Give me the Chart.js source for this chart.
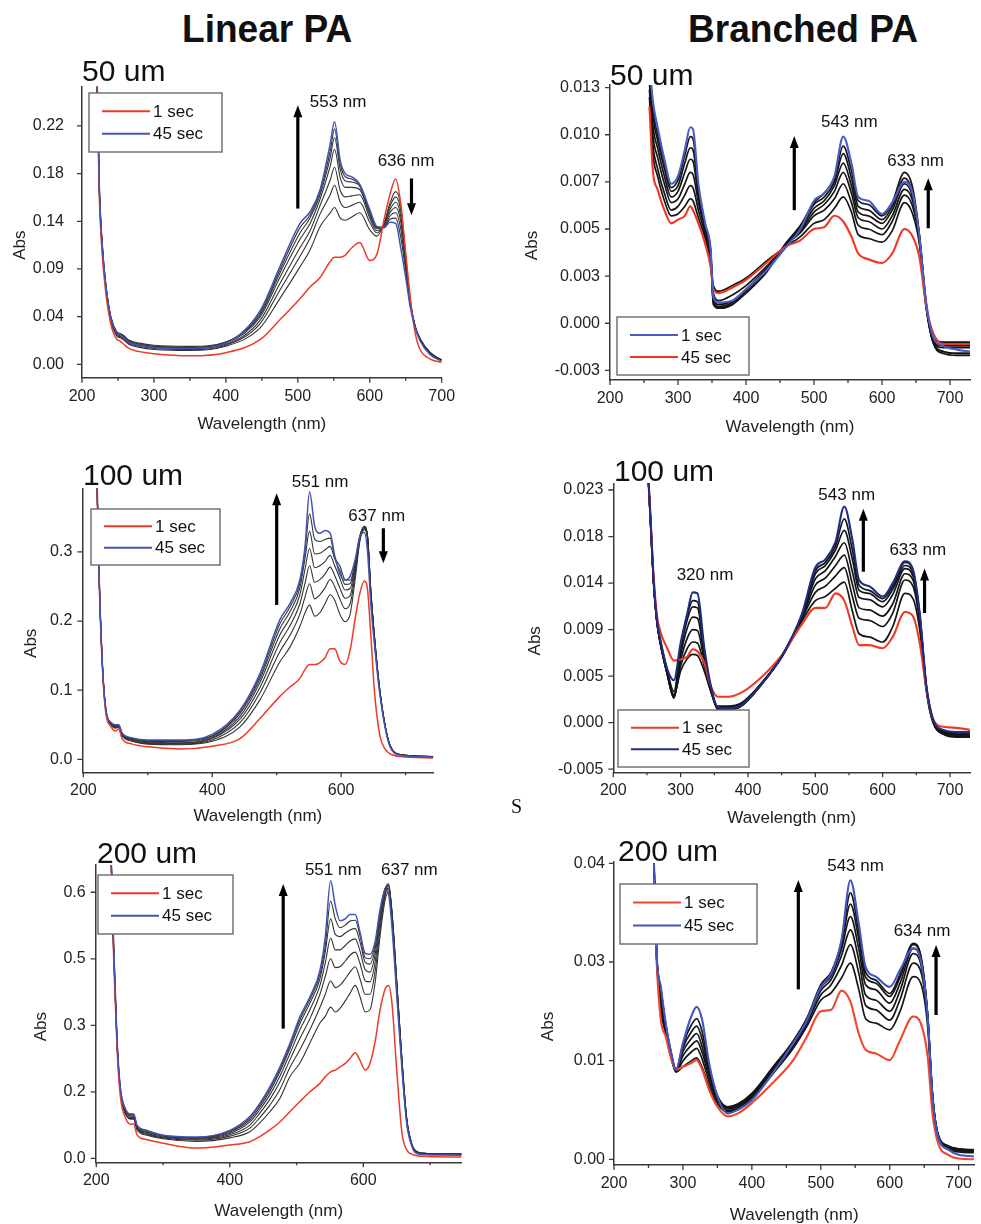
<!DOCTYPE html>
<html>
<head>
<meta charset="utf-8">
<script src="https://cdn.jsdelivr.net/npm/chart.js@4.4.0/dist/chart.umd.min.js"></script>
<style>
  body { margin: 0; background: #fff; width: 981px; height: 1224px; position: relative; overflow: hidden;
         font-family: "Liberation Sans", Arial, sans-serif; color: #111; }
  canvas { position: absolute; }
  .title { position: absolute; font-weight: bold; font-size: 39px; line-height: 1; transform-origin: left top; transform: scaleX(0.95); white-space: nowrap; }
  .tag { position: absolute; font-size: 30px; line-height: 1; white-space: nowrap; }
  .stray { position: absolute; font-family: "Liberation Serif", serif; font-size: 20px; line-height: 1; }
</style>
</head>
<body>
<canvas id="linear50" width="490" height="390" style="left:0;top:50px"></canvas>
<canvas id="branched50" width="491" height="390" style="left:490px;top:50px"></canvas>
<canvas id="linear100" width="490" height="390" style="left:0;top:440px"></canvas>
<canvas id="branched100" width="491" height="390" style="left:490px;top:440px"></canvas>
<canvas id="linear200" width="490" height="394" style="left:0;top:830px"></canvas>
<canvas id="branched200" width="491" height="394" style="left:490px;top:830px"></canvas>

<div class="title" style="left:182px;top:9px">Linear PA</div>
<div class="title" style="left:688px;top:9px">Branched PA</div>
<div class="tag" style="left:82px;top:56px">50 um</div>
<div class="tag" style="left:610px;top:60px">50 um</div>
<div class="tag" style="left:83px;top:460px">100 um</div>
<div class="tag" style="left:614px;top:456px">100 um</div>
<div class="tag" style="left:97px;top:838px">200 um</div>
<div class="tag" style="left:618px;top:836px">200 um</div>
<div class="stray" style="left:511px;top:796px">S</div>

<script>
'use strict';

// ******* AXIS TICKS ********
let xMajorFull = [200, 300, 400, 500, 600, 700];
let xMinorFull = [250, 350, 450, 550, 650];
let xMajorWide = [200, 400, 600];
let xMinorWide = [300, 500, 700];

// ******* LINEAR PA, 50 um ********
let linear50Nm = [220, 224, 228, 233, 240, 248, 253, 258, 265, 280, 300, 350, 400, 447, 475, 503, 517, 531, 545, 551, 559, 566, 575, 586, 600, 610, 620, 628, 636, 643, 650, 656, 663, 670, 684, 700];
let linear50Red = [0.30, 0.16, 0.105, 0.068, 0.038, 0.024, 0.022, 0.019, 0.015, 0.012, 0.010, 0.008, 0.011, 0.023, 0.042, 0.062, 0.073, 0.082, 0.097, 0.101, 0.101, 0.103, 0.110, 0.115, 0.098, 0.104, 0.137, 0.160, 0.175, 0.152, 0.105, 0.065, 0.030, 0.014, 0.005, 0.002];
let linear50Blue = [0.31, 0.17, 0.114, 0.075, 0.044, 0.030, 0.028, 0.025, 0.021, 0.018, 0.016, 0.015, 0.020, 0.050, 0.092, 0.133, 0.144, 0.165, 0.208, 0.229, 0.192, 0.180, 0.177, 0.170, 0.146, 0.130, 0.129, 0.134, 0.133, 0.110, 0.082, 0.055, 0.035, 0.022, 0.009, 0.003];
let linear50Mid = [
  [0.30, 0.165, 0.110, 0.072, 0.041, 0.027, 0.025, 0.023, 0.019, 0.016, 0.014, 0.013, 0.017, 0.034, 0.062, 0.092, 0.108, 0.130, 0.143, 0.148, 0.138, 0.136, 0.139, 0.143, 0.127, 0.121, 0.133, 0.152, 0.163, 0.150, 0.102, 0.062, 0.036, 0.024, 0.011, 0.004],
  [0.30, 0.166, 0.111, 0.073, 0.042, 0.028, 0.026, 0.024, 0.020, 0.017, 0.015, 0.014, 0.018, 0.038, 0.070, 0.102, 0.119, 0.142, 0.160, 0.169, 0.153, 0.148, 0.150, 0.153, 0.134, 0.124, 0.133, 0.149, 0.158, 0.145, 0.100, 0.061, 0.036, 0.024, 0.011, 0.004],
  [0.30, 0.167, 0.112, 0.074, 0.043, 0.029, 0.027, 0.025, 0.021, 0.018, 0.016, 0.015, 0.019, 0.041, 0.076, 0.110, 0.126, 0.150, 0.174, 0.186, 0.164, 0.158, 0.159, 0.160, 0.138, 0.126, 0.132, 0.146, 0.153, 0.140, 0.098, 0.060, 0.036, 0.024, 0.011, 0.004],
  [0.30, 0.168, 0.113, 0.075, 0.044, 0.030, 0.028, 0.026, 0.022, 0.019, 0.017, 0.016, 0.020, 0.044, 0.082, 0.118, 0.133, 0.156, 0.187, 0.203, 0.176, 0.167, 0.167, 0.165, 0.141, 0.128, 0.131, 0.143, 0.148, 0.135, 0.095, 0.059, 0.036, 0.024, 0.011, 0.004],
  [0.30, 0.169, 0.114, 0.076, 0.045, 0.031, 0.029, 0.027, 0.022, 0.019, 0.017, 0.016, 0.021, 0.046, 0.086, 0.124, 0.138, 0.160, 0.195, 0.214, 0.184, 0.173, 0.172, 0.168, 0.143, 0.129, 0.130, 0.140, 0.143, 0.128, 0.092, 0.058, 0.036, 0.023, 0.010, 0.004],
  [0.30, 0.170, 0.115, 0.076, 0.045, 0.031, 0.029, 0.027, 0.023, 0.020, 0.018, 0.017, 0.021, 0.048, 0.089, 0.129, 0.141, 0.163, 0.201, 0.222, 0.189, 0.177, 0.175, 0.169, 0.145, 0.130, 0.129, 0.137, 0.138, 0.120, 0.088, 0.057, 0.035, 0.023, 0.010, 0.004]
];
let linear50YTicks = [0, 0.045, 0.09, 0.135, 0.18, 0.225];
let linear50YLabels = ['0.00', '0.04', '0.09', '0.14', '0.18', '0.22'];

// ******* BRANCHED PA, 50 um ********
let branched50Nm = [258, 263, 270, 280, 290, 300, 310, 318, 322, 330, 340, 348, 352, 360, 380, 400, 430, 460, 480, 500, 515, 530, 543, 555, 565, 580, 600, 615, 633, 645, 655, 665, 675, 690, 710, 730];
let branched50Blue = [0.0138, 0.0118, 0.0104, 0.0087, 0.0074, 0.0078, 0.0092, 0.0104, 0.0103, 0.0074, 0.0053, 0.0039, 0.0014, 0.0011, 0.0012, 0.0018, 0.0028, 0.0041, 0.0050, 0.0065, 0.0069, 0.0078, 0.0099, 0.0085, 0.0067, 0.0065, 0.0058, 0.0064, 0.0075, 0.0069, 0.0046, 0.0011, -0.0007, -0.0012, -0.0014, -0.0015];
let branched50Red = [0.0115, 0.0081, 0.0071, 0.0060, 0.0053, 0.0055, 0.0057, 0.0062, 0.0060, 0.0053, 0.0042, 0.0030, 0.0018, 0.0016, 0.0019, 0.0023, 0.0032, 0.0041, 0.0044, 0.0050, 0.0051, 0.0057, 0.0054, 0.0046, 0.0037, 0.0034, 0.0032, 0.0037, 0.0050, 0.0046, 0.0035, 0.0009, -0.0005, -0.0011, -0.0011, -0.0011];
let branched50Mid = [
  [0.0120, 0.0090, 0.0078, 0.0065, 0.0057, 0.0058, 0.0062, 0.0066, 0.0065, 0.0056, 0.0045, 0.0033, 0.0020, 0.0017, 0.0020, 0.0024, 0.0033, 0.0041, 0.0046, 0.0053, 0.0055, 0.0061, 0.0067, 0.0059, 0.0047, 0.0045, 0.0043, 0.0049, 0.0064, 0.0058, 0.0042, 0.0008, -0.0008, -0.0010, -0.0010, -0.0010],
  [0.0124, 0.0095, 0.0082, 0.0069, 0.0060, 0.0062, 0.0068, 0.0073, 0.0072, 0.0060, 0.0047, 0.0035, 0.0016, 0.0012, 0.0015, 0.0020, 0.0030, 0.0042, 0.0048, 0.0057, 0.0060, 0.0066, 0.0074, 0.0064, 0.0052, 0.0050, 0.0047, 0.0054, 0.0068, 0.0062, 0.0044, 0.0009, -0.0009, -0.0013, -0.0013, -0.0013],
  [0.0128, 0.0100, 0.0088, 0.0074, 0.0064, 0.0066, 0.0074, 0.0080, 0.0079, 0.0064, 0.0049, 0.0036, 0.0012, 0.0009, 0.0011, 0.0018, 0.0029, 0.0042, 0.0049, 0.0059, 0.0063, 0.0070, 0.0080, 0.0069, 0.0056, 0.0054, 0.0050, 0.0057, 0.0071, 0.0065, 0.0045, 0.0009, -0.0010, -0.0015, -0.0016, -0.0016],
  [0.0131, 0.0105, 0.0093, 0.0078, 0.0067, 0.0070, 0.0080, 0.0087, 0.0086, 0.0067, 0.0050, 0.0037, 0.0010, 0.0008, 0.0010, 0.0017, 0.0028, 0.0043, 0.0050, 0.0061, 0.0065, 0.0073, 0.0085, 0.0073, 0.0059, 0.0057, 0.0053, 0.0060, 0.0074, 0.0067, 0.0046, 0.0010, -0.0010, -0.0016, -0.0017, -0.0017],
  [0.0134, 0.0110, 0.0097, 0.0082, 0.0070, 0.0073, 0.0085, 0.0093, 0.0092, 0.0070, 0.0051, 0.0038, 0.0011, 0.0008, 0.0010, 0.0016, 0.0027, 0.0043, 0.0051, 0.0063, 0.0067, 0.0075, 0.0090, 0.0077, 0.0062, 0.0060, 0.0055, 0.0062, 0.0077, 0.0069, 0.0046, 0.0010, -0.0009, -0.0015, -0.0016, -0.0016],
  [0.0136, 0.0114, 0.0100, 0.0085, 0.0072, 0.0076, 0.0089, 0.0099, 0.0098, 0.0072, 0.0052, 0.0039, 0.0013, 0.0010, 0.0012, 0.0018, 0.0028, 0.0043, 0.0052, 0.0064, 0.0069, 0.0077, 0.0094, 0.0081, 0.0065, 0.0063, 0.0057, 0.0064, 0.0080, 0.0072, 0.0047, 0.0010, -0.0008, -0.0012, -0.0012, -0.0012]
];
let branched50YTicks = [-0.0025, 0, 0.0025, 0.005, 0.0075, 0.01, 0.0125];
let branched50YLabels = ['-0.003', '0.000', '0.003', '0.005', '0.007', '0.010', '0.013'];

// ******* LINEAR PA, 100 um ********
let linear100Nm = [221, 225, 230, 235, 243, 250, 255, 260, 276, 300, 350, 400, 443, 474, 505, 521, 536, 544, 551, 559, 567, 575, 583, 590, 598, 606, 614, 622, 629, 636, 641, 646, 652, 660, 668, 676, 691, 743];
let linear100Red = [0.40, 0.245, 0.125, 0.066, 0.047, 0.041, 0.044, 0.030, 0.022, 0.018, 0.015, 0.019, 0.030, 0.059, 0.091, 0.105, 0.117, 0.130, 0.137, 0.137, 0.140, 0.147, 0.160, 0.160, 0.142, 0.137, 0.158, 0.205, 0.240, 0.258, 0.245, 0.180, 0.095, 0.035, 0.015, 0.008, 0.004, 0.002];
let linear100Blue = [0.42, 0.25, 0.13, 0.072, 0.053, 0.050, 0.050, 0.038, 0.031, 0.028, 0.028, 0.036, 0.071, 0.124, 0.202, 0.226, 0.260, 0.308, 0.387, 0.337, 0.327, 0.331, 0.327, 0.295, 0.268, 0.259, 0.265, 0.290, 0.322, 0.328, 0.300, 0.225, 0.163, 0.095, 0.047, 0.018, 0.006, 0.003];
let linear100Mid = [
  [0.41, 0.248, 0.128, 0.069, 0.050, 0.045, 0.046, 0.034, 0.026, 0.022, 0.021, 0.026, 0.047, 0.086, 0.141, 0.163, 0.192, 0.212, 0.223, 0.207, 0.212, 0.225, 0.238, 0.230, 0.210, 0.199, 0.210, 0.262, 0.315, 0.332, 0.320, 0.245, 0.175, 0.100, 0.050, 0.020, 0.007, 0.004],
  [0.41, 0.248, 0.129, 0.070, 0.051, 0.046, 0.047, 0.035, 0.027, 0.023, 0.022, 0.028, 0.053, 0.096, 0.156, 0.180, 0.210, 0.235, 0.254, 0.232, 0.238, 0.248, 0.260, 0.250, 0.232, 0.218, 0.225, 0.270, 0.318, 0.334, 0.322, 0.245, 0.175, 0.100, 0.050, 0.020, 0.007, 0.004],
  [0.41, 0.249, 0.129, 0.070, 0.051, 0.047, 0.048, 0.036, 0.028, 0.024, 0.023, 0.030, 0.058, 0.104, 0.169, 0.194, 0.225, 0.255, 0.280, 0.256, 0.260, 0.268, 0.278, 0.266, 0.248, 0.233, 0.237, 0.276, 0.320, 0.336, 0.323, 0.244, 0.174, 0.100, 0.050, 0.020, 0.007, 0.004],
  [0.41, 0.249, 0.130, 0.071, 0.052, 0.048, 0.048, 0.036, 0.029, 0.025, 0.024, 0.031, 0.062, 0.111, 0.180, 0.205, 0.238, 0.275, 0.305, 0.277, 0.280, 0.286, 0.295, 0.280, 0.262, 0.245, 0.247, 0.281, 0.321, 0.337, 0.322, 0.243, 0.173, 0.099, 0.050, 0.020, 0.007, 0.004],
  [0.41, 0.249, 0.130, 0.071, 0.052, 0.049, 0.049, 0.037, 0.030, 0.026, 0.026, 0.033, 0.066, 0.116, 0.189, 0.214, 0.248, 0.291, 0.330, 0.297, 0.298, 0.303, 0.308, 0.290, 0.273, 0.253, 0.254, 0.284, 0.322, 0.337, 0.320, 0.240, 0.171, 0.098, 0.049, 0.019, 0.007, 0.004],
  [0.41, 0.250, 0.130, 0.072, 0.053, 0.050, 0.050, 0.038, 0.030, 0.027, 0.027, 0.034, 0.069, 0.120, 0.196, 0.221, 0.255, 0.302, 0.355, 0.318, 0.315, 0.318, 0.320, 0.292, 0.280, 0.260, 0.259, 0.287, 0.323, 0.336, 0.318, 0.236, 0.168, 0.097, 0.048, 0.019, 0.007, 0.004]
];
let linear100YTicks = [0, 0.1, 0.2, 0.3];
let linear100YLabels = ['0.0', '0.1', '0.2', '0.3'];

// ******* BRANCHED PA, 100 um ********
let branched100Nm = [250, 255, 260, 265, 270, 280, 290, 300, 310, 318, 325, 335, 345, 355, 370, 390, 420, 450, 480, 500, 515, 530, 543, 555, 565, 580, 600, 615, 633, 645, 655, 665, 675, 690, 710, 730];
let branched100Red = [0.0262, 0.0202, 0.0140, 0.0103, 0.0088, 0.0072, 0.0060, 0.0061, 0.0064, 0.0071, 0.0069, 0.0058, 0.0035, 0.0025, 0.0025, 0.0029, 0.0044, 0.0065, 0.0095, 0.0111, 0.0111, 0.0125, 0.0118, 0.0093, 0.0075, 0.0075, 0.0072, 0.0083, 0.0107, 0.0103, 0.0077, 0.0032, 0.0003, -0.0004, -0.0005, -0.0007];
let branched100Blue = [0.0262, 0.0200, 0.0137, 0.0098, 0.0080, 0.0052, 0.0041, 0.0077, 0.0106, 0.0126, 0.0125, 0.0073, 0.0035, 0.0015, 0.0014, 0.0017, 0.0037, 0.0064, 0.0105, 0.0150, 0.0158, 0.0175, 0.0209, 0.0177, 0.0138, 0.0132, 0.0122, 0.0135, 0.0156, 0.0148, 0.0106, 0.0035, 0.0003, -0.0007, -0.0009, -0.0009];
let branched100Mid = [
  [0.0262, 0.0198, 0.0134, 0.0096, 0.0076, 0.0048, 0.0027, 0.0050, 0.0062, 0.0066, 0.0065, 0.0050, 0.0030, 0.0016, 0.0016, 0.0019, 0.0038, 0.0063, 0.0098, 0.0118, 0.0122, 0.0130, 0.0136, 0.0108, 0.0086, 0.0083, 0.0078, 0.0093, 0.0125, 0.0120, 0.0090, 0.0030, 0.0000, -0.0008, -0.0010, -0.0010],
  [0.0262, 0.0198, 0.0134, 0.0096, 0.0076, 0.0047, 0.0025, 0.0055, 0.0072, 0.0078, 0.0077, 0.0055, 0.0030, 0.0015, 0.0015, 0.0018, 0.0038, 0.0064, 0.0100, 0.0126, 0.0132, 0.0142, 0.0150, 0.0122, 0.0101, 0.0099, 0.0093, 0.0106, 0.0138, 0.0132, 0.0097, 0.0032, 0.0000, -0.0010, -0.0012, -0.0012],
  [0.0262, 0.0199, 0.0135, 0.0097, 0.0077, 0.0047, 0.0024, 0.0060, 0.0082, 0.0090, 0.0089, 0.0060, 0.0031, 0.0014, 0.0014, 0.0017, 0.0038, 0.0064, 0.0101, 0.0133, 0.0140, 0.0152, 0.0162, 0.0134, 0.0111, 0.0109, 0.0103, 0.0115, 0.0144, 0.0138, 0.0100, 0.0033, 0.0001, -0.0011, -0.0013, -0.0013],
  [0.0262, 0.0199, 0.0135, 0.0097, 0.0077, 0.0048, 0.0024, 0.0065, 0.0092, 0.0102, 0.0101, 0.0064, 0.0032, 0.0013, 0.0013, 0.0016, 0.0037, 0.0064, 0.0102, 0.0139, 0.0147, 0.0161, 0.0174, 0.0146, 0.0121, 0.0119, 0.0112, 0.0124, 0.0149, 0.0142, 0.0102, 0.0034, 0.0001, -0.0011, -0.0014, -0.0014],
  [0.0262, 0.0200, 0.0136, 0.0098, 0.0078, 0.0049, 0.0026, 0.0070, 0.0100, 0.0112, 0.0111, 0.0068, 0.0033, 0.0013, 0.0013, 0.0016, 0.0037, 0.0064, 0.0103, 0.0144, 0.0152, 0.0167, 0.0186, 0.0158, 0.0128, 0.0125, 0.0117, 0.0129, 0.0152, 0.0145, 0.0104, 0.0034, 0.0002, -0.0010, -0.0013, -0.0013],
  [0.0262, 0.0200, 0.0136, 0.0098, 0.0079, 0.0051, 0.0030, 0.0074, 0.0104, 0.0118, 0.0117, 0.0070, 0.0034, 0.0014, 0.0013, 0.0016, 0.0037, 0.0064, 0.0104, 0.0147, 0.0155, 0.0171, 0.0197, 0.0167, 0.0133, 0.0128, 0.0120, 0.0132, 0.0155, 0.0147, 0.0105, 0.0035, 0.0002, -0.0009, -0.0011, -0.0011]
];
let branched100YTicks = [-0.0045, 0, 0.0045, 0.009, 0.0135, 0.018, 0.0225];
let branched100YLabels = ['-0.005', '0.000', '0.005', '0.009', '0.014', '0.018', '0.023'];

// ******* LINEAR PA, 200 um ********
let linear200Nm = [222, 226, 231, 236, 244, 252, 256, 261, 276, 300, 350, 400, 430, 445, 460, 475, 490, 505, 520, 535, 543, 551, 558, 565, 573, 580, 588, 595, 603, 610, 618, 625, 633, 638, 643, 650, 658, 665, 673, 680, 695, 747];
let linear200Red = [0.68, 0.45, 0.25, 0.14, 0.090, 0.077, 0.078, 0.053, 0.042, 0.034, 0.023, 0.030, 0.0375, 0.049, 0.064, 0.082, 0.105, 0.128, 0.150, 0.169, 0.184, 0.195, 0.199, 0.206, 0.214, 0.225, 0.238, 0.221, 0.199, 0.214, 0.266, 0.334, 0.383, 0.390, 0.349, 0.200, 0.056, 0.019, 0.009, 0.006, 0.004, 0.003];
let linear200Blue = [0.70, 0.48, 0.27, 0.16, 0.11, 0.10, 0.10, 0.075, 0.063, 0.052, 0.048, 0.063, 0.094, 0.124, 0.161, 0.206, 0.259, 0.319, 0.364, 0.424, 0.499, 0.626, 0.570, 0.536, 0.540, 0.550, 0.550, 0.510, 0.462, 0.460, 0.491, 0.560, 0.605, 0.595, 0.520, 0.370, 0.199, 0.079, 0.026, 0.011, 0.008, 0.007];
let linear200Mid = [
  [0.69, 0.46, 0.26, 0.15, 0.10, 0.088, 0.088, 0.064, 0.052, 0.044, 0.038, 0.046, 0.060, 0.080, 0.105, 0.135, 0.184, 0.215, 0.260, 0.305, 0.320, 0.341, 0.330, 0.338, 0.355, 0.372, 0.390, 0.365, 0.330, 0.335, 0.400, 0.500, 0.585, 0.600, 0.550, 0.400, 0.220, 0.090, 0.030, 0.015, 0.011, 0.010],
  [0.69, 0.46, 0.26, 0.15, 0.10, 0.090, 0.090, 0.066, 0.054, 0.046, 0.041, 0.050, 0.068, 0.092, 0.120, 0.155, 0.205, 0.245, 0.290, 0.340, 0.370, 0.400, 0.385, 0.390, 0.405, 0.420, 0.432, 0.405, 0.370, 0.370, 0.425, 0.515, 0.595, 0.610, 0.555, 0.400, 0.220, 0.090, 0.030, 0.015, 0.011, 0.010],
  [0.69, 0.47, 0.26, 0.15, 0.10, 0.092, 0.092, 0.068, 0.056, 0.048, 0.043, 0.053, 0.075, 0.102, 0.133, 0.172, 0.222, 0.270, 0.315, 0.370, 0.410, 0.450, 0.430, 0.432, 0.445, 0.458, 0.465, 0.440, 0.400, 0.398, 0.445, 0.530, 0.600, 0.615, 0.555, 0.400, 0.220, 0.090, 0.030, 0.015, 0.011, 0.010],
  [0.69, 0.47, 0.26, 0.155, 0.105, 0.095, 0.095, 0.070, 0.058, 0.050, 0.045, 0.056, 0.082, 0.110, 0.143, 0.185, 0.236, 0.290, 0.335, 0.390, 0.440, 0.497, 0.470, 0.470, 0.480, 0.490, 0.495, 0.468, 0.425, 0.420, 0.462, 0.540, 0.608, 0.619, 0.550, 0.395, 0.215, 0.088, 0.030, 0.014, 0.010, 0.009],
  [0.70, 0.48, 0.27, 0.155, 0.105, 0.097, 0.097, 0.072, 0.060, 0.051, 0.046, 0.059, 0.087, 0.116, 0.151, 0.195, 0.247, 0.304, 0.350, 0.405, 0.465, 0.540, 0.505, 0.500, 0.508, 0.515, 0.518, 0.488, 0.442, 0.438, 0.475, 0.550, 0.610, 0.615, 0.545, 0.390, 0.210, 0.085, 0.029, 0.013, 0.009, 0.008],
  [0.70, 0.48, 0.27, 0.16, 0.11, 0.099, 0.099, 0.074, 0.062, 0.052, 0.047, 0.061, 0.091, 0.121, 0.157, 0.201, 0.254, 0.312, 0.358, 0.415, 0.480, 0.580, 0.540, 0.520, 0.526, 0.535, 0.537, 0.502, 0.452, 0.450, 0.485, 0.555, 0.608, 0.605, 0.535, 0.380, 0.205, 0.082, 0.028, 0.012, 0.009, 0.008]
];
let linear200YTicks = [0, 0.15, 0.3, 0.45, 0.6];
let linear200YLabels = ['0.0', '0.2', '0.3', '0.5', '0.6'];

// ******* BRANCHED PA, 200 um ********
let branched200Nm = [258, 262, 268, 275, 282, 290, 300, 312, 320, 328, 338, 350, 365, 380, 400, 430, 460, 480, 500, 515, 530, 543, 555, 565, 580, 600, 615, 634, 645, 655, 662, 670, 685, 700, 722];
let branched200Red = [0.038, 0.0265, 0.0188, 0.0166, 0.0139, 0.0121, 0.0125, 0.0130, 0.0134, 0.0121, 0.0094, 0.0071, 0.0058, 0.0062, 0.0076, 0.0103, 0.0134, 0.0166, 0.0200, 0.0202, 0.0228, 0.0213, 0.0170, 0.0148, 0.0143, 0.0134, 0.0161, 0.0193, 0.0184, 0.0139, 0.0062, 0.0022, 0.0006, 0.0001, 0.0000];
let branched200Blue = [0.040, 0.0274, 0.0233, 0.0184, 0.0148, 0.0121, 0.0157, 0.0193, 0.0206, 0.0188, 0.0130, 0.0085, 0.0062, 0.0067, 0.0080, 0.0116, 0.0157, 0.0188, 0.0233, 0.0251, 0.0296, 0.0377, 0.0319, 0.0260, 0.0247, 0.0233, 0.0256, 0.0285, 0.0269, 0.0193, 0.0085, 0.0031, 0.0013, 0.0006, 0.0004];
let branched200Mid = [
  [0.039, 0.027, 0.020, 0.0170, 0.0140, 0.0118, 0.0125, 0.0133, 0.0137, 0.0124, 0.0098, 0.0075, 0.0064, 0.0068, 0.0082, 0.0115, 0.0150, 0.0180, 0.0215, 0.0225, 0.0245, 0.0265, 0.0230, 0.0190, 0.0184, 0.0175, 0.0200, 0.0247, 0.0238, 0.0180, 0.0080, 0.0030, 0.0014, 0.0010, 0.0009],
  [0.039, 0.027, 0.021, 0.0173, 0.0142, 0.0118, 0.0133, 0.0145, 0.0150, 0.0135, 0.0105, 0.0078, 0.0066, 0.0070, 0.0084, 0.0118, 0.0153, 0.0184, 0.0222, 0.0236, 0.0262, 0.0290, 0.0252, 0.0208, 0.0202, 0.0188, 0.0216, 0.0265, 0.0254, 0.0188, 0.0084, 0.0032, 0.0016, 0.0012, 0.0011],
  [0.039, 0.027, 0.022, 0.0176, 0.0144, 0.0119, 0.0140, 0.0154, 0.0160, 0.0144, 0.0111, 0.0081, 0.0068, 0.0072, 0.0086, 0.0120, 0.0156, 0.0187, 0.0228, 0.0243, 0.0275, 0.0310, 0.0270, 0.0222, 0.0215, 0.0200, 0.0228, 0.0278, 0.0264, 0.0192, 0.0086, 0.0033, 0.0017, 0.0013, 0.0012],
  [0.040, 0.0275, 0.0225, 0.0179, 0.0146, 0.0120, 0.0146, 0.0163, 0.0170, 0.0152, 0.0116, 0.0083, 0.0069, 0.0073, 0.0087, 0.0122, 0.0158, 0.0189, 0.0232, 0.0248, 0.0284, 0.0328, 0.0285, 0.0236, 0.0229, 0.0211, 0.0238, 0.0285, 0.0270, 0.0194, 0.0087, 0.0034, 0.0018, 0.0014, 0.0013],
  [0.040, 0.0275, 0.023, 0.0181, 0.0147, 0.0120, 0.0151, 0.0172, 0.0180, 0.0162, 0.0121, 0.0085, 0.0070, 0.0074, 0.0088, 0.0123, 0.0159, 0.0190, 0.0234, 0.0251, 0.0290, 0.0345, 0.0298, 0.0246, 0.0238, 0.0220, 0.0246, 0.0290, 0.0274, 0.0195, 0.0088, 0.0034, 0.0018, 0.0014, 0.0012],
  [0.040, 0.0275, 0.023, 0.0183, 0.0148, 0.0121, 0.0155, 0.0181, 0.0190, 0.0172, 0.0125, 0.0086, 0.0071, 0.0075, 0.0089, 0.0124, 0.0160, 0.0191, 0.0236, 0.0253, 0.0294, 0.0360, 0.0308, 0.0253, 0.0242, 0.0224, 0.0250, 0.0292, 0.0276, 0.0196, 0.0088, 0.0034, 0.0017, 0.0012, 0.0010]
];
let branched200YTicks = [0, 0.04 / 3, 0.08 / 3, 0.04];
let branched200YLabels = ['0.00', '0.01', '0.03', '0.04'];

// ******* HELPERS ********
const FONT = '"Liberation Sans", Arial, sans-serif';
const YW = 75;   // y axis box width (tick labels are clipped to it)
const XH = 40;   // x axis box height

function spectrum(nm, vals){
  return nm.map((x, i) => ({ x: x, y: vals[i] }));
}

// draws tick marks, axis titles, legend box, peak labels and arrows
const decorPlugin = {
  id: 'decor',
  afterDraw(chart, args, opts){
    const ctx = chart.ctx;
    const area = chart.chartArea;
    const xs = chart.scales.x;
    const ys = chart.scales.y;
    ctx.save();
    ctx.strokeStyle = '#3a3a3a';
    ctx.lineWidth = 1.3;
    ctx.beginPath();
    opts.xMajor.forEach(v => { let p = xs.getPixelForValue(v); ctx.moveTo(p, area.bottom); ctx.lineTo(p, area.bottom + 5); });
    opts.xMinor.forEach(v => { let p = xs.getPixelForValue(v); ctx.moveTo(p, area.bottom); ctx.lineTo(p, area.bottom + 3); });
    opts.yTicks.forEach(v => { let p = ys.getPixelForValue(v); ctx.moveTo(area.left, p); ctx.lineTo(area.left - 5, p); });
    ctx.stroke();

    // axis titles
    ctx.fillStyle = '#222';
    ctx.font = '17px ' + FONT;
    ctx.textAlign = 'center';
    ctx.textBaseline = 'middle';
    ctx.fillText('Wavelength (nm)', (area.left + area.right) / 2, area.bottom + opts.xTitleDy);
    ctx.save();
    ctx.translate(area.left - opts.yTitleDx, (area.top + area.bottom) / 2 + 13);
    ctx.rotate(-Math.PI / 2);
    ctx.fillText('Abs', 0, 0);
    ctx.restore();

    // peak labels
    ctx.fillStyle = '#111';
    ctx.font = '17px ' + FONT;
    opts.labels.forEach(l => ctx.fillText(l.text, xs.getPixelForValue(l.x), ys.getPixelForValue(l.y)));

    // arrows
    ctx.fillStyle = '#000';
    ctx.strokeStyle = '#000';
    opts.arrows.forEach(a => {
      let x = xs.getPixelForValue(a.x);
      let y0 = ys.getPixelForValue(a.from);
      let y1 = ys.getPixelForValue(a.to);
      let dir = y1 < y0 ? -1 : 1;
      ctx.lineWidth = 3.2;
      ctx.beginPath();
      ctx.moveTo(x, y0);
      ctx.lineTo(x, y1 - dir * 9);
      ctx.stroke();
      ctx.beginPath();
      ctx.moveTo(x, y1);
      ctx.lineTo(x - 4.5, y1 - dir * 12);
      ctx.lineTo(x + 4.5, y1 - dir * 12);
      ctx.closePath();
      ctx.fill();
    });

    // legend box
    let lg = opts.legend;
    let bx = area.left + lg.dx;
    let by = lg.fromBottom ? area.bottom - lg.dy - lg.h : area.top + lg.dy;
    ctx.fillStyle = '#fff';
    ctx.fillRect(bx, by, lg.w, lg.h);
    ctx.strokeStyle = '#6a6a6a';
    ctx.lineWidth = 1.4;
    ctx.strokeRect(bx, by, lg.w, lg.h);
    ['1 sec', '45 sec'].forEach((name, i) => {
      let ds = chart.data.datasets.find(d => d.label === name);
      let ry = by + lg.h * (i === 0 ? 0.31 : 0.69);
      ctx.strokeStyle = ds.borderColor;
      ctx.lineWidth = 2;
      ctx.beginPath();
      ctx.moveTo(bx + 13, ry);
      ctx.lineTo(bx + 61, ry);
      ctx.stroke();
      ctx.fillStyle = '#111';
      ctx.font = '17px ' + FONT;
      ctx.textAlign = 'left';
      ctx.fillText(name, bx + 64, ry + 1);
    });
    ctx.restore();
  }
};

function buildPanel(p){
  let datasets = [];
  datasets.push({ label: p.blueLabel, data: spectrum(p.nm, p.blue), borderColor: p.blueColor, borderWidth: p.lw + 0.4 });
  datasets.push({ label: p.redLabel, data: spectrum(p.nm, p.red), borderColor: p.redColor, borderWidth: p.lw + 0.4 });
  p.mid.forEach(row => {
    datasets.push({ label: 'mid', data: spectrum(p.nm, row), borderColor: p.midColor, borderWidth: p.lw });
  });

  let c = p.canvas;
  let area = p.area;
  let pad = {
    left: area.l - c.x - YW,
    top: area.t - c.y,
    right: c.x + c.w - area.r,
    bottom: c.y + c.h - area.b - XH
  };

  new Chart(document.getElementById(p.id), { //eslint-disable-line
    type: 'line',
    data: { datasets: datasets },
    options: {
      responsive: false,
      animation: false,
      layout: { autoPadding: false, padding: pad },
      elements: { point: { radius: 0 }, line: { cubicInterpolationMode: 'monotone', borderJoinStyle: 'round' } },
      plugins: {
        legend: { display: false },
        tooltip: { enabled: false },
        decor: {
          xMajor: p.xMajor, xMinor: p.xMinor, yTicks: p.yTicks,
          xTitleDy: p.xTitleDy, yTitleDx: p.yTitleDx,
          labels: p.labels, arrows: p.arrows, legend: p.legend
        }
      },
      scales: {
        x: {
          type: 'linear', min: p.xMin, max: p.xMax,
          afterFit: s => { s.height = XH; },
          afterBuildTicks: s => { s.ticks = p.xMajor.map(v => ({ value: v })); },
          grid: { display: true, drawOnChartArea: false, drawTicks: false },
          border: { display: true, color: '#3a3a3a', width: 1.5 },
          ticks: { autoSkip: false, maxRotation: 0, padding: 9, color: '#222', font: { family: FONT, size: 16 }, callback: v => String(v) }
        },
        y: {
          type: 'linear', min: p.yMin, max: p.yMax,
          afterFit: s => { s.width = YW; },
          afterBuildTicks: s => { s.ticks = p.yTicks.map(v => ({ value: v })); },
          grid: { display: true, drawOnChartArea: false, drawTicks: false },
          border: { display: true, color: '#3a3a3a', width: 1.5 },
          ticks: { autoSkip: false, padding: p.yPad, color: '#222', font: { family: FONT, size: 16 },
            callback: (v, i) => p.yLabels[i] }
        }
      }
    },
    plugins: [decorPlugin]
  });
}

// ******* EXECUTABLE CODE ********
buildPanel({
  id: 'linear50', canvas: { x: 0, y: 50, w: 490, h: 390 }, area: { l: 82, t: 86.7, r: 441.7, b: 377.7 },
  nm: linear50Nm, red: linear50Red, blue: linear50Blue, mid: linear50Mid,
  redLabel: '1 sec', blueLabel: '45 sec', redColor: '#ee3a26', blueColor: '#4354b8', midColor: '#333333', lw: 1.1,
  xMin: 200, xMax: 700, yMin: -0.0126, yMax: 0.262,
  xMajor: xMajorFull, xMinor: xMinorFull, yTicks: linear50YTicks, yLabels: linear50YLabels, yPad: 18,
  xTitleDy: 47, yTitleDx: 62,
  labels: [{ text: '553 nm', x: 556, y: 0.2469 }, { text: '636 nm', x: 650.4, y: 0.192 }],
  arrows: [{ x: 500, from: 0.147, to: 0.2445 }, { x: 658, from: 0.1754, to: 0.1408 }],
  legend: { dx: 7, dy: 6.3, w: 133, h: 59 }
});

buildPanel({
  id: 'branched50', canvas: { x: 490, y: 50, w: 491, h: 390 }, area: { l: 610, t: 85, r: 970, b: 380 },
  nm: branched50Nm, red: branched50Red, blue: branched50Blue, mid: branched50Mid,
  redLabel: '45 sec', blueLabel: '1 sec', redColor: '#ef3524', blueColor: '#4a5cc6', midColor: '#151515', lw: 1.7,
  xMin: 200, xMax: 729.4, yMin: -0.00301, yMax: 0.01264,
  xMajor: xMajorFull, xMinor: xMinorFull, yTicks: branched50YTicks, yLabels: branched50YLabels, yPad: 10,
  xTitleDy: 47, yTitleDx: 78,
  labels: [{ text: '543 nm', x: 551.9, y: 0.01065 }, { text: '633 nm', x: 649.5, y: 0.00861 }],
  arrows: [{ x: 471, from: 0.0060, to: 0.00994 }, { x: 668, from: 0.00504, to: 0.00769 }],
  legend: { dx: 7, dy: 5, w: 132, h: 58, fromBottom: true }
});

buildPanel({
  id: 'linear100', canvas: { x: 0, y: 440, w: 490, h: 390 }, area: { l: 82.3, t: 488.3, r: 433.3, b: 772.3 },
  nm: linear100Nm, red: linear100Red, blue: linear100Blue, mid: linear100Mid,
  redLabel: '1 sec', blueLabel: '45 sec', redColor: '#ee3a26', blueColor: '#4354b8', midColor: '#333333', lw: 1.1,
  xMin: 198.4, xMax: 743, yMin: -0.0188, yMax: 0.392,
  xMajor: xMajorWide, xMinor: xMinorWide, yTicks: linear100YTicks, yLabels: linear100YLabels, yPad: 10,
  xTitleDy: 44, yTitleDx: 51,
  labels: [{ text: '551 nm', x: 567.3, y: 0.4003 }, { text: '637 nm', x: 655.2, y: 0.3511 }],
  arrows: [{ x: 500, from: 0.2233, to: 0.385 }, { x: 665.5, from: 0.3342, to: 0.2837 }],
  legend: { dx: 8.7, dy: 20.7, w: 129, h: 56 }
});

buildPanel({
  id: 'branched100', canvas: { x: 490, y: 440, w: 491, h: 390 }, area: { l: 613.3, t: 483.3, r: 970, b: 772.3 },
  nm: branched100Nm, red: branched100Red, blue: branched100Blue, mid: branched100Mid,
  redLabel: '1 sec', blueLabel: '45 sec', redColor: '#ee3a22', blueColor: '#1f2d86', midColor: '#151515', lw: 1.7,
  xMin: 200, xMax: 729.7, yMin: -0.0048, yMax: 0.02315,
  xMajor: xMajorFull, xMinor: xMinorFull, yTicks: branched100YTicks, yLabels: branched100YLabels, yPad: 10,
  xTitleDy: 46, yTitleDx: 78,
  labels: [{ text: '320 nm', x: 336.2, y: 0.01428 }, { text: '543 nm', x: 546.6, y: 0.0220 }, { text: '633 nm', x: 652.1, y: 0.0167 }],
  arrows: [{ x: 571.3, from: 0.0146, to: 0.0207 }, { x: 662.2, from: 0.0106, to: 0.0149 }],
  legend: { dx: 4.7, dy: 5.3, w: 131, h: 57, fromBottom: true }
});

buildPanel({
  id: 'linear200', canvas: { x: 0, y: 830, w: 490, h: 394 }, area: { l: 95.7, t: 865, r: 461.7, b: 1162.3 },
  nm: linear200Nm, red: linear200Red, blue: linear200Blue, mid: linear200Mid,
  redLabel: '1 sec', blueLabel: '45 sec', redColor: '#ee3a26', blueColor: '#4354b8', midColor: '#333333', lw: 1.1,
  xMin: 199.1, xMax: 747.4, yMin: -0.009, yMax: 0.6615,
  xMajor: xMajorWide, xMinor: xMinorWide, yTicks: linear200YTicks, yLabels: linear200YLabels, yPad: 10,
  xTitleDy: 49, yTitleDx: 54,
  labels: [{ text: '551 nm', x: 555, y: 0.650 }, { text: '637 nm', x: 669, y: 0.650 }],
  arrows: [{ x: 480, from: 0.2925, to: 0.6188 }],
  legend: { dx: 2.3, dy: 10, w: 135, h: 59 }
});

buildPanel({
  id: 'branched200', canvas: { x: 490, y: 830, w: 491, h: 394 }, area: { l: 614, t: 862, r: 981, b: 1165 },
  nm: branched200Nm, red: branched200Red, blue: branched200Blue, mid: branched200Mid,
  redLabel: '1 sec', blueLabel: '45 sec', redColor: '#f0462a', blueColor: '#4256c2', midColor: '#151515', lw: 1.7,
  xMin: 200, xMax: 722.8, yMin: -0.00077, yMax: 0.04018,
  xMajor: xMajorFull, xMinor: xMinorFull, yTicks: branched200YTicks, yLabels: branched200YLabels, yPad: 9,
  xTitleDy: 50, yTitleDx: 66,
  labels: [{ text: '543 nm', x: 550.4, y: 0.03964 }, { text: '634 nm', x: 646.8, y: 0.03086 }],
  arrows: [{ x: 467.4, from: 0.02297, to: 0.03775 }, { x: 667.2, from: 0.0195, to: 0.02896 }],
  legend: { dx: 6, dy: 22, w: 137, h: 60 }
});
</script>
</body>
</html>
